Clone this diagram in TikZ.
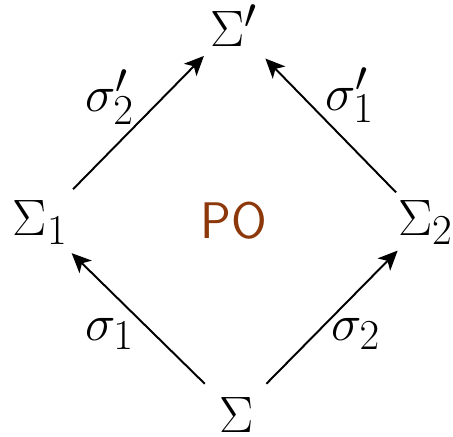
\documentclass[tikz,border=0pt]{standalone}
\usepackage{fontspec}
\usetikzlibrary{arrows.meta}
\definecolor{pobrown}{RGB}{140,56,10}
\begin{document}
\begin{tikzpicture}[x=0.486pt,y=-0.486pt,
  obj/.style={inner sep=0pt,outer sep=0pt,anchor=base west,font=\Huge},
  lbl/.style={inner sep=0pt,outer sep=0pt,anchor=base west,font=\Huge},
  mor/.style={line width=0.95pt,-{Stealth[length=9.5pt,width=8.5pt,inset=2.5pt]}}]
\useasboundingbox (0,0) rectangle (453,436);
\node[obj] (top) at (210,47) {$\Sigma'$};
\node[obj] (left) at (13,235) {$\Sigma_1$};
\node[obj] (right) at (398,235) {$\Sigma_2$};
\node[obj] (bot) at (219,432) {$\Sigma$};
\node[inner sep=0pt,anchor=base west,text=pobrown,font=\sffamily\fontsize{25pt}{30pt}\selectfont] (po) at (200,238) {PO};
\node[lbl] (l1) at (85,340) {$\sigma_1$};
\node[lbl] (l2) at (331,340) {$\sigma_2$};
\node[lbl] (l3) at (85,112) {$\sigma'_2$};
\node[lbl] (l4) at (325,110) {$\sigma'_1$};
\draw[mor,shorten <=21.3pt,shorten >=21.3pt] (bot.center) -- (left.center);
\draw[mor,shorten <=21pt,shorten >=19.2pt] (bot.center) -- (right.center);
\draw[mor,shorten <=22.7pt,shorten >=20.5pt] (left.center) -- (top.center);
\draw[mor,shorten <=20.4pt,shorten >=22.2pt] (right.center) -- (top.center);
\end{tikzpicture}
\end{document}
